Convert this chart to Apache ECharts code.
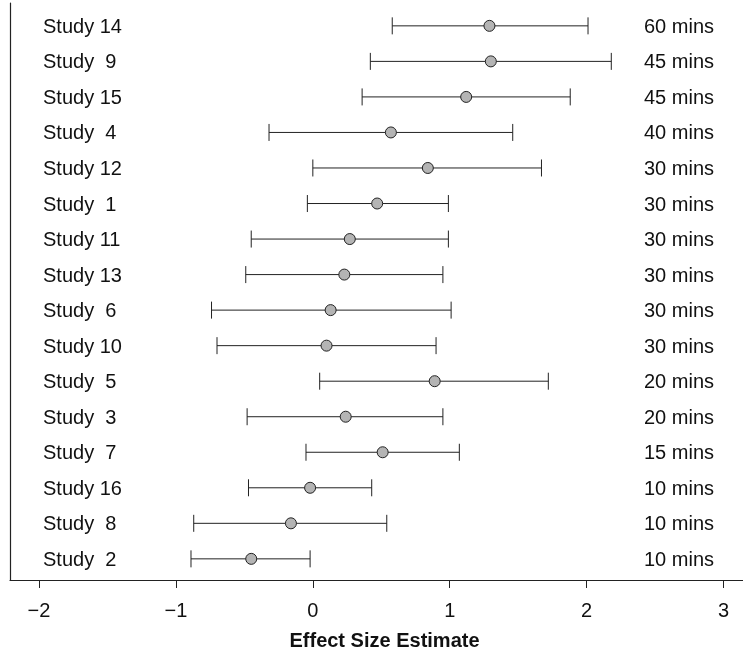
<!DOCTYPE html>
<html>
<head>
<meta charset="utf-8">
<script src="https://cdn.jsdelivr.net/npm/echarts@6/dist/echarts.min.js"></script>
<style>
html,body{margin:0;padding:0;background:#fff;}
#chart{width:743px;height:656px;}
</style>
</head>
<body>
<div id="chart"></div>
<script>
const studies = ['Study 14','Study  9','Study 15','Study  4','Study 12','Study  1','Study 11','Study 13','Study  6','Study 10','Study  5','Study  3','Study  7','Study 16','Study  8','Study  2'];
const durations = ['60 mins','45 mins','45 mins','40 mins','30 mins','30 mins','30 mins','30 mins','30 mins','30 mins','20 mins','20 mins','15 mins','10 mins','10 mins','10 mins'];
const estimates = [1.29, 1.30, 1.12, 0.57, 0.84, 0.47, 0.27, 0.23, 0.13, 0.10, 0.89, 0.24, 0.51, -0.02, -0.16, -0.45];
const lower = [0.58, 0.42, 0.36, -0.32, 0.00, -0.04, -0.45, -0.49, -0.74, -0.70, 0.05, -0.48, -0.05, -0.47, -0.87, -0.89];
const upper = [2.01, 2.18, 1.88, 1.46, 1.67, 0.99, 0.99, 0.95, 1.01, 0.90, 1.72, 0.95, 1.07, 0.43, 0.54, -0.02];
const xTicks = [-2, -1, 0, 1, 2, 3];
const xTitle = 'Effect Size Estimate';

const FONT = '"Liberation Sans", Arial, Helvetica, sans-serif';
const INK = '#111';

const chart = echarts.init(document.getElementById('chart'), null, {renderer: 'canvas'});

const barData = studies.map((s, i) => [i, lower[i], upper[i]]);
const pointData = studies.map((s, i) => [estimates[i], i]);

const option = {
  animation: false,
  backgroundColor: '#fff',
  grid: {left: 10, right: 0, top: 3, bottom: 72, containLabel: false},
  xAxis: {
    type: 'value',
    position: 'bottom',
    min: -2.212,
    max: 3.142,
    name: xTitle,
    nameLocation: 'middle',
    nameGap: 51,
    nameTextStyle: {fontFamily: FONT, fontSize: 20, fontWeight: 'bold', color: INK, padding: [0, 0, 0, 16]},
    axisLine: {show: true, onZero: false, lineStyle: {color: '#222', width: 1.2}},
    axisTick: {show: true, length: 8, inside: false, customValues: xTicks, lineStyle: {color: '#222', width: 1}},
    axisLabel: {
      show: true, customValues: xTicks, margin: 21,
      fontFamily: FONT, fontSize: 20, color: INK,
      formatter: v => (v < 0 ? '\u2212' + Math.abs(v) : String(v))
    },
    splitLine: {show: false}
  },
  yAxis: {
    type: 'value',
    position: 'left',
    inverse: true,
    min: -0.643,
    max: 15.595,
    axisLine: {show: true, onZero: false, lineStyle: {color: '#222', width: 1.2}},
    axisTick: {show: false},
    axisLabel: {show: false},
    splitLine: {show: false}
  },
  series: [
    {
      type: 'custom',
      data: barData,
      encode: {x: [1, 2], y: 0},
      clip: false,
      renderItem: function (params, api) {
        const idx = params.dataIndex;
        const row = api.value(0);
        const pL = api.coord([api.value(1), row]);
        const pH = api.coord([api.value(2), row]);
        const cap = 8.5;
        const stroke = {stroke: '#222', lineWidth: 1};
        return {
          type: 'group',
          children: [
            {type: 'line', shape: {x1: pL[0], y1: pL[1], x2: pH[0], y2: pH[1]}, style: stroke},
            {type: 'line', shape: {x1: pL[0], y1: pL[1] - cap, x2: pL[0], y2: pL[1] + cap}, style: stroke},
            {type: 'line', shape: {x1: pH[0], y1: pH[1] - cap, x2: pH[0], y2: pH[1] + cap}, style: stroke},
            {type: 'text', x: 43, y: pL[1] + 1.5, style: {text: studies[idx], font: '20px ' + FONT, fill: INK, align: 'left', verticalAlign: 'middle'}},
            {type: 'text', x: 644, y: pL[1] + 1.5, style: {text: durations[idx], font: '20px ' + FONT, fill: INK, align: 'left', verticalAlign: 'middle'}}
          ]
        };
      },
      z: 2
    },
    {
      type: 'scatter',
      data: pointData,
      symbol: 'circle',
      symbolSize: 11,
      itemStyle: {color: '#b4b4b4', borderColor: '#222', borderWidth: 1, opacity: 1},
      z: 3
    }
  ]
};

chart.setOption(option);
</script>
</body>
</html>
